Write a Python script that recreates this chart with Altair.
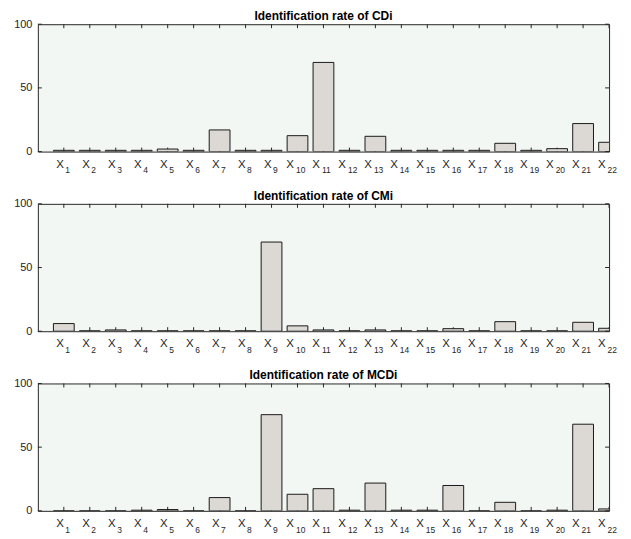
import altair as alt
import pandas as pd

positions = list(range(1, 23))
subscripts = [str(i) for i in positions]
titles = ["Identification rate of CDi", "Identification rate of CMi", "Identification rate of MCDi"]
cdi = [1, 1, 1, 1, 2, 1, 17, 1, 1, 12.5, 70, 1, 12, 1, 1, 1, 1, 6.5, 1, 2.3, 22, 7.3]
cmi = [6, 0.3, 1, 0.3, 0.3, 0.3, 0.3, 0.3, 70, 4.2, 1, 0.3, 1, 0.3, 0.3, 2, 0.3, 7.5, 0.3, 0.3, 7, 2.3]
mcdi = [0, 0, 0, 0.5, 1, 0, 10.4, 0, 75.5, 13, 17.4, 0.5, 21.8, 0.5, 0.5, 19.9, 0, 6.7, 0, 0.5, 68, 1.5]
y_ticks = [0, 50, 100]

BG = "#F2F7F3"
BAR = "#DCD8D3"
EDGE = "#1a1a1a"
AX = "#262626"
W, H = 574, 128
FONT = "Liberation Sans"


def panel(values, title):
    df = pd.DataFrame({"pos": positions, "val": values, "sub": subscripts})
    ydf = pd.DataFrame({"val": y_ticks})
    xs = alt.Scale(domain=[0, 22], nice=False, zero=False)
    ys = alt.Scale(domain=[0, 100], nice=False)
    yaxis = alt.Axis(values=y_ticks, ticks=False, domain=False, grid=False, title=None,
                     labelFont=FONT, labelFontSize=11, labelColor=AX, labelPadding=6)
    base = alt.Chart(df)
    ticks_top = base.mark_rule(color=AX, strokeWidth=1).encode(
        x=alt.X("pos:Q", scale=xs, axis=None), y=alt.value(0), y2=alt.value(4))
    ticks_bot = base.mark_rule(color=AX, strokeWidth=1).encode(
        x=alt.X("pos:Q", scale=xs, axis=None), y=alt.value(H - 4), y2=alt.value(H))
    bars = base.transform_calculate(
        lo="datum.pos - 0.4", hi="datum.pos + 0.4"
    ).mark_bar(fill=BAR, stroke=EDGE, strokeWidth=1, clip=True).encode(
        x=alt.X("lo:Q", scale=xs, axis=None),
        x2="hi:Q",
        y=alt.Y("val:Q", scale=ys, axis=yaxis),
        y2=alt.datum(0),
    )
    yb = alt.Chart(ydf)
    yl = yb.mark_rule(color=AX).encode(
        y=alt.Y("val:Q", scale=ys, axis=yaxis), x=alt.value(0), x2=alt.value(4))
    yr = yb.mark_rule(color=AX).encode(
        y=alt.Y("val:Q", scale=ys, axis=yaxis), x=alt.value(W - 4), x2=alt.value(W))
    single = base.transform_filter("datum.pos < 10")
    double = base.transform_filter("datum.pos >= 10")
    xs1 = single.mark_text(text="X", align="right", baseline="alphabetic", dx=0,
                           font=FONT, fontSize=11.5, color=AX).encode(
        x=alt.X("pos:Q", scale=xs, axis=None), y=alt.value(H + 16))
    ss1 = single.mark_text(align="left", baseline="alphabetic", dx=1.5,
                           font=FONT, fontSize=8.5, color=AX).encode(
        x=alt.X("pos:Q", scale=xs, axis=None), y=alt.value(H + 22), text="sub:N")
    xs2 = double.mark_text(text="X", align="right", baseline="alphabetic", dx=-3.5,
                           font=FONT, fontSize=11.5, color=AX).encode(
        x=alt.X("pos:Q", scale=xs, axis=None), y=alt.value(H + 16))
    ss2 = double.mark_text(align="left", baseline="alphabetic", dx=-1.5,
                           font=FONT, fontSize=8.5, color=AX).encode(
        x=alt.X("pos:Q", scale=xs, axis=None), y=alt.value(H + 22), text="sub:N")
    return alt.layer(ticks_top, ticks_bot, bars, yl, yr, xs1, ss1, xs2, ss2).properties(
        width=W, height=H,
        title=alt.TitleParams(title, font=FONT, fontSize=12, fontWeight="bold",
                              color="black", offset=-5, anchor="middle"),
    )


chart = alt.vconcat(
    panel(cdi, titles[0]), panel(cmi, titles[1]), panel(mcdi, titles[2]),
    spacing=52.5, bounds="flush",
).properties(
    padding={"left": 5, "top": 0, "right": 5, "bottom": 0},
    background="white",
).configure_view(fill=BG, stroke=AX, strokeWidth=1)

chart.save("out.html", embed_options={"renderer": "svg", "actions": False})
